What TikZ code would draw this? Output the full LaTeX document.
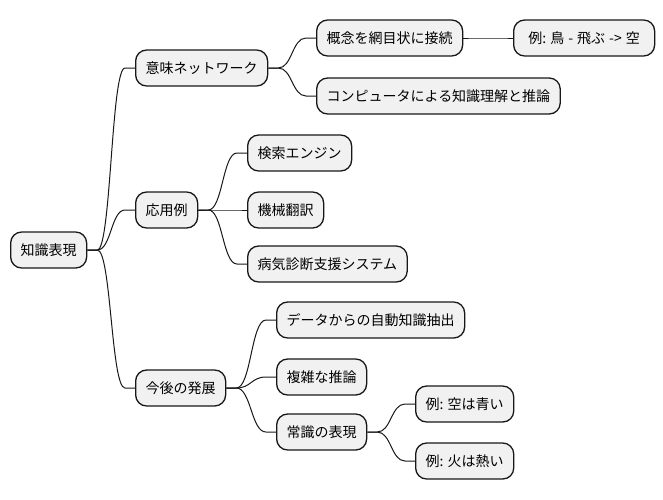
\documentclass[tikz,border=0pt]{standalone}
\usepackage{fontspec}
\setmainfont{Noto Sans CJK JP}
\usepackage{tikz}
\usetikzlibrary{calc}

\definecolor{ideafill}{HTML}{F1F1F1}
\definecolor{idealine}{HTML}{181818}

\tikzset{
  idea/.style={draw=idealine, fill=ideafill, line width=1.3pt,
    rounded corners=11pt, anchor=west, minimum height=36pt,
    inner xsep=10pt, inner ysep=0pt,
    font=\fontsize{14}{16}\selectfont},
  branch/.style={draw=idealine, line width=1pt}
}

% curved branch from parent #1 to child #2
\newcommand{\linkto}[2]{%
  \path (#1.east) ++(10,0) coordinate (s)
        (#2.west) ++(-10,0) coordinate (e);
  \coordinate (m) at ($(s)!0.5!(e)$);
  \draw[branch] (#1.east) -- (s) .. controls (m |- s) and (m |- e) .. (e) -- (#2.west);
}

\begin{document}
\begin{tikzpicture}[x=1pt, y=-1pt]
\useasboundingbox (0,0) rectangle (663,499);

\node[idea] (root) at (10,250) {知識表現};

\node[idea] (net) at (135,68) {意味ネットワーク};
\node[idea] (app) at (135,210) {応用例};
\node[idea] (fut) at (135,388) {今後の発展};

\node[idea] (mesh) at (316,38) {概念を網目状に接続};
\node[idea, minimum width=141pt] (bird) at (513,38) {例:\hspace{4pt}鳥\hspace{4pt}-\hspace{4pt}飛ぶ\hspace{4pt}->\hspace{4pt}空};
\node[idea] (comp) at (316,96) {コンピュータによる知識理解と推論};

\node[idea] (search) at (247,153) {検索エンジン};
\node[idea] (trans) at (247,210) {機械翻訳};
\node[idea] (diag) at (247,264) {病気診断支援システム};

\node[idea] (extr) at (276,320) {データからの自動知識抽出};
\node[idea] (reas) at (276,377) {複雑な推論};
\node[idea] (comm) at (276,432) {常識の表現};
\node[idea] (sky) at (415,404) {例: 空は青い};
\node[idea] (fire) at (415,461) {例: 火は熱い};

\linkto{root}{net}
\linkto{root}{app}
\linkto{root}{fut}
\linkto{net}{mesh}
\linkto{net}{comp}
\linkto{mesh}{bird}
\linkto{app}{search}
\linkto{app}{trans}
\linkto{app}{diag}
\linkto{fut}{extr}
\linkto{fut}{reas}
\linkto{fut}{comm}
\linkto{comm}{sky}
\linkto{comm}{fire}
\end{tikzpicture}
\end{document}
